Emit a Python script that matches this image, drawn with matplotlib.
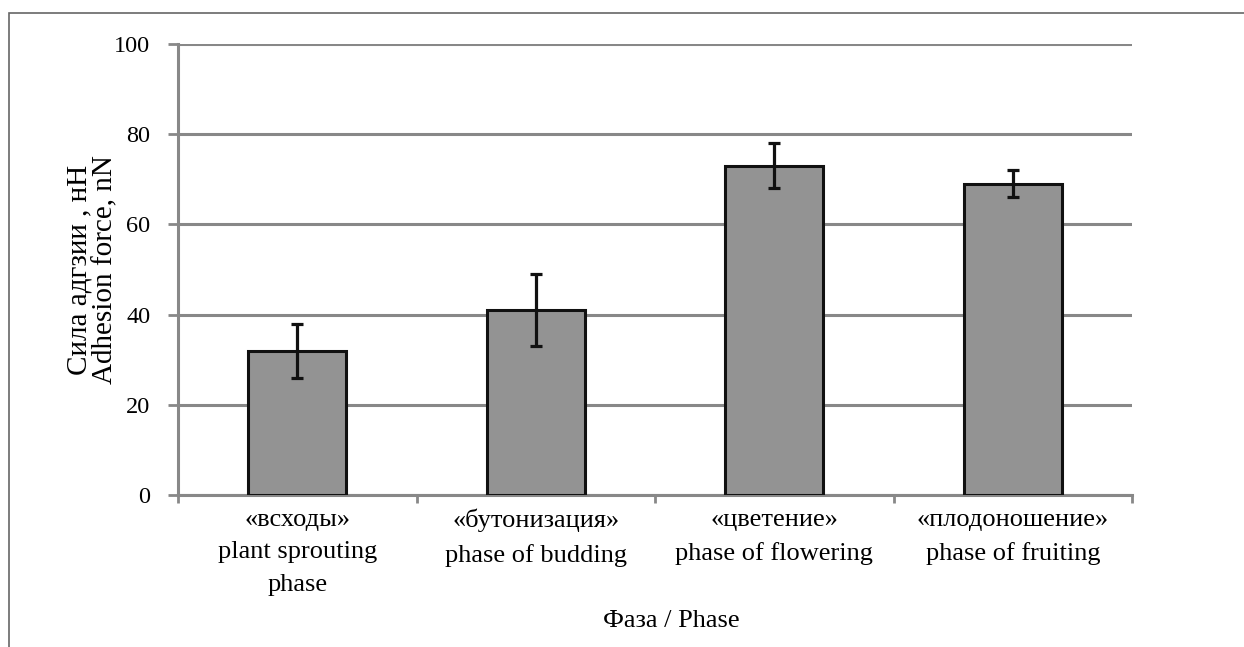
import matplotlib
matplotlib.use('Agg')
import matplotlib.pyplot as plt
from matplotlib.patches import Rectangle

# данные
faza_ru = ['«всходы»', '«бутонизация»', '«цветение»', '«плодоношение»']
faza_en = ['plant sprouting\nphase', 'phase of budding', 'phase of flowering', 'phase of fruiting']
sila = [32, 41, 73, 69]
oshibka = [6, 8, 5, 3]
y_ticks = [0, 20, 40, 60, 80, 100]

plt.rcParams['font.family'] = ['Liberation Serif', 'DejaVu Serif']

fig = plt.figure(figsize=(12.44, 6.47), dpi=100)
ax = fig.add_axes([0.1431, 0.2349, 0.9100 - 0.1431, 0.932 - 0.2349])

# рамка вокруг рисунка
fig.patches.append(Rectangle((9 / 1244, -0.1), 1.2, 1 - 12.5 / 647 + 0.1,
                             transform=fig.transFigure, fill=False,
                             edgecolor='#666666', linewidth=1.2))

pos = list(range(len(sila)))
ax.bar(pos, sila, width=0.41, color='#939393', edgecolor='#111111',
       linewidth=2.2, zorder=3)
ax.errorbar(pos, sila, yerr=oshibka, fmt='none', ecolor='#111111',
            elinewidth=2.3, capsize=4.5, capthick=2.3, zorder=4)

ax.set_xlim(-0.5, 3.5)
ax.set_ylim(0, 100)
ax.set_yticks(y_ticks)
ax.set_yticklabels([str(v) for v in y_ticks], fontsize=17.5)
ax.yaxis.grid(True, color='#888888', linewidth=2.2, zorder=0)
ax.set_axisbelow(True)

ax.set_xticks(pos)
ax.set_xticklabels([r + '\n' + e for r, e in zip(faza_ru, faza_en)],
                   fontsize=19, linespacing=1.62)
ax.set_xticks([-0.5, 0.5, 1.5, 2.5, 3.5], minor=True)
ax.tick_params(axis='x', which='major', length=0, pad=10)
ax.tick_params(axis='x', which='minor', length=6, width=2, color='#888888')
ax.tick_params(axis='y', length=7, width=2, color='#888888', pad=13)

for s in ['top', 'right']:
    ax.spines[s].set_visible(False)
for s in ['left', 'bottom']:
    ax.spines[s].set_color('#888888')
    ax.spines[s].set_linewidth(2.2)

fig.text(92 / 1244, 1 - 270 / 647, 'Сила адгзии , нН\nAdhesion force, nN',
         rotation=90, ha='center', va='center', multialignment='center',
         fontsize=21, linespacing=1.0)
fig.text(671 / 1244, 1 - 621 / 647, 'Фаза / Phase',
         ha='center', va='center', fontsize=19)

plt.savefig('out.png', dpi=100)
